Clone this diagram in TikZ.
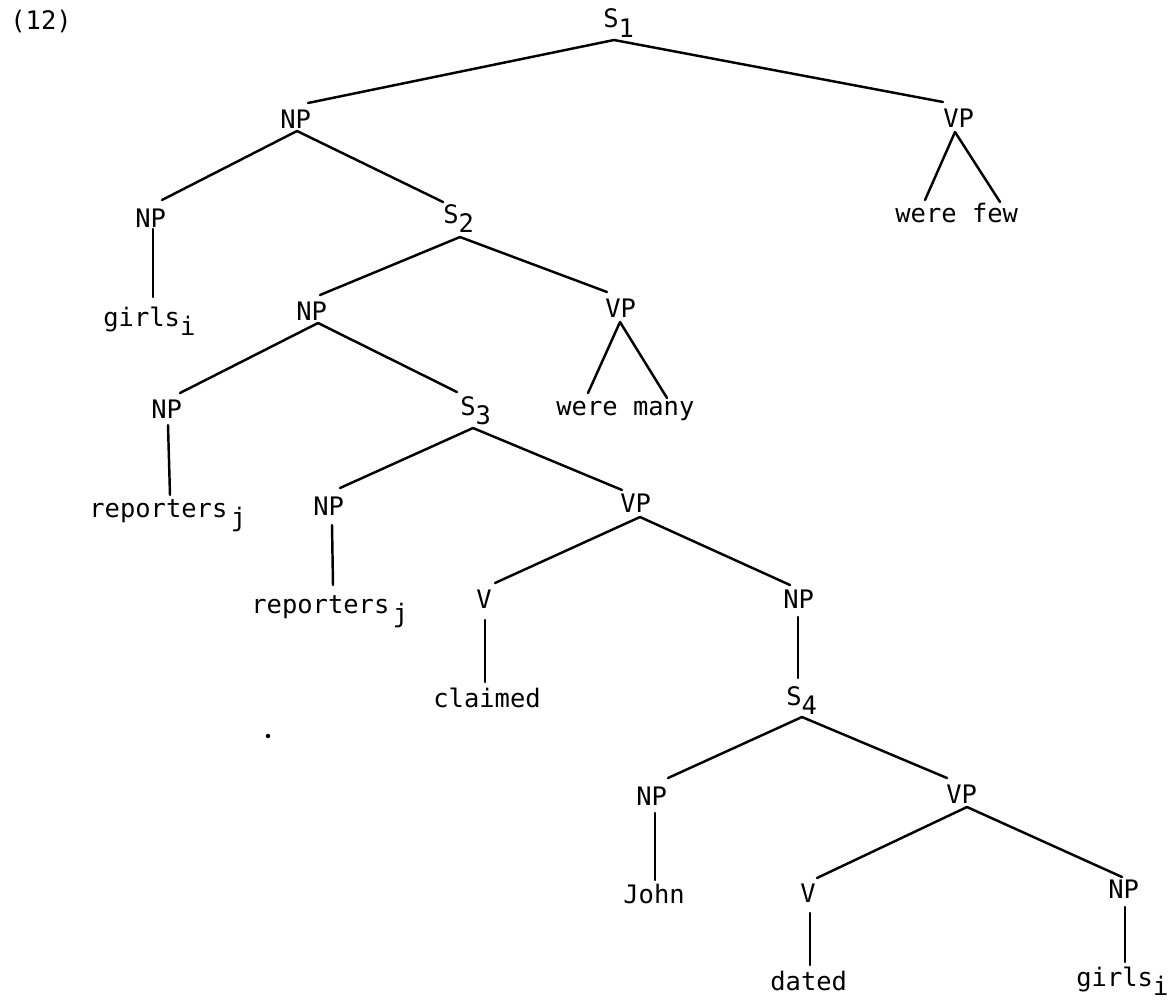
\documentclass[tikz,border=0pt]{standalone}
\usepackage{fontspec}
\setmonofont{DejaVu Sans Mono}
\usetikzlibrary{calc}
\newcommand\lw[1]{\raisebox{-5.5pt}{#1}}
\newcommand\br[4]{\draw[branch] ($(#1.base west)+(#2)$) -- ($(#3.base west)+(#4)$);}
\begin{document}
\begin{tikzpicture}[x=0.02cm,y=-0.02cm,
  lbl/.style={anchor=base west,inner sep=0pt,font=\ttfamily\fontsize{14.5}{17}\selectfont},
  branch/.style={line width=1.4pt,line cap=round}]
\useasboundingbox[fill=white] (0,0) rectangle (1175,1004);
\node[lbl] (num) at (10,30) {(12)};
\node[lbl] (s1) at (603,28) {S\lw{1}};
\node[lbl] (np1) at (280,128) {NP};
\node[lbl] (vp1) at (943,127) {VP};
\node[lbl] (few) at (895,222) {were few};
\node[lbl] (np2) at (135,227) {NP};
\node[lbl] (girls1) at (103,326) {girls\lw{i}};
\node[lbl] (s2) at (443,223) {S\lw{2}};
\node[lbl] (np3) at (296,320) {NP};
\node[lbl] (vp2) at (605,317) {VP};
\node[lbl] (many) at (556,415) {were many};
\node[lbl] (np4) at (151,418) {NP};
\node[lbl] (s3) at (460,415) {S\lw{3}};
\node[lbl] (rep1) at (89,517) {reporters\kern2pt\lw{j}};
\node[lbl] (np5) at (313,515) {NP};
\node[lbl] (vp3) at (620,512) {VP};
\node[lbl] (rep2) at (251,613) {reporters\kern2pt\lw{j}};
\node[lbl] (v1) at (476,608) {V};
\node[lbl] (np6) at (783,608) {NP};
\node[lbl] (claimed) at (433,707) {claimed};
\node[lbl] (s4) at (786,705) {S\lw{4}};
\node[lbl] (np7) at (636,805) {NP};
\node[lbl] (vp4) at (946,803) {VP};
\node[lbl] (john) at (623,903) {John};
\node[lbl] (v2) at (800,902) {V};
\node[lbl] (np8) at (1108,898) {NP};
\node[lbl] (dated) at (770,990) {dated};
\node[lbl] (girls2) at (1076,986) {girls\lw{i}};
\node[circle,fill,inner sep=0.9pt] (dot) at (268,736) {};
\br{s1}{11,12}{np1}{28,-25}
\br{s1}{11,12}{vp1}{0,-25}
\br{np1}{17,3}{np2}{27,-27}
\br{np1}{17,3}{s2}{0,-21}
\br{vp1}{12,5}{few}{30,-22}
\br{vp1}{12,5}{few}{105,-20}
\br{np2}{18,2}{girls1}{50,-29}
\br{s2}{17,14}{np3}{24,-25}
\br{s2}{17,14}{vp2}{2,-25}
\br{np3}{22,3}{np4}{29,-25}
\br{np3}{22,3}{s3}{-3,-23}
\br{vp2}{15,5}{many}{32,-22}
\br{vp2}{15,5}{many}{111,-17}
\br{np4}{17,7}{rep1}{81,-22}
\br{s3}{13,13}{np5}{27,-27}
\br{s3}{13,13}{vp3}{2,-22}
\br{np5}{19,10}{rep2}{82,-28}
\br{vp3}{20,5}{v1}{19,-25}
\br{vp3}{20,5}{np6}{7,-23}
\br{v1}{9,12}{claimed}{52,-25}
\br{np6}{15,9}{s4}{12,-27}
\br{s4}{16,12}{np7}{32,-27}
\br{s4}{16,12}{vp4}{1,-25}
\br{np7}{19,8}{john}{32,-23}
\br{vp4}{21,4}{v2}{17,-24}
\br{vp4}{21,4}{np8}{14,-21}
\br{v2}{10,11}{dated}{40,-25}
\br{np8}{17,9}{girls2}{49,-24}
\end{tikzpicture}
\end{document}
